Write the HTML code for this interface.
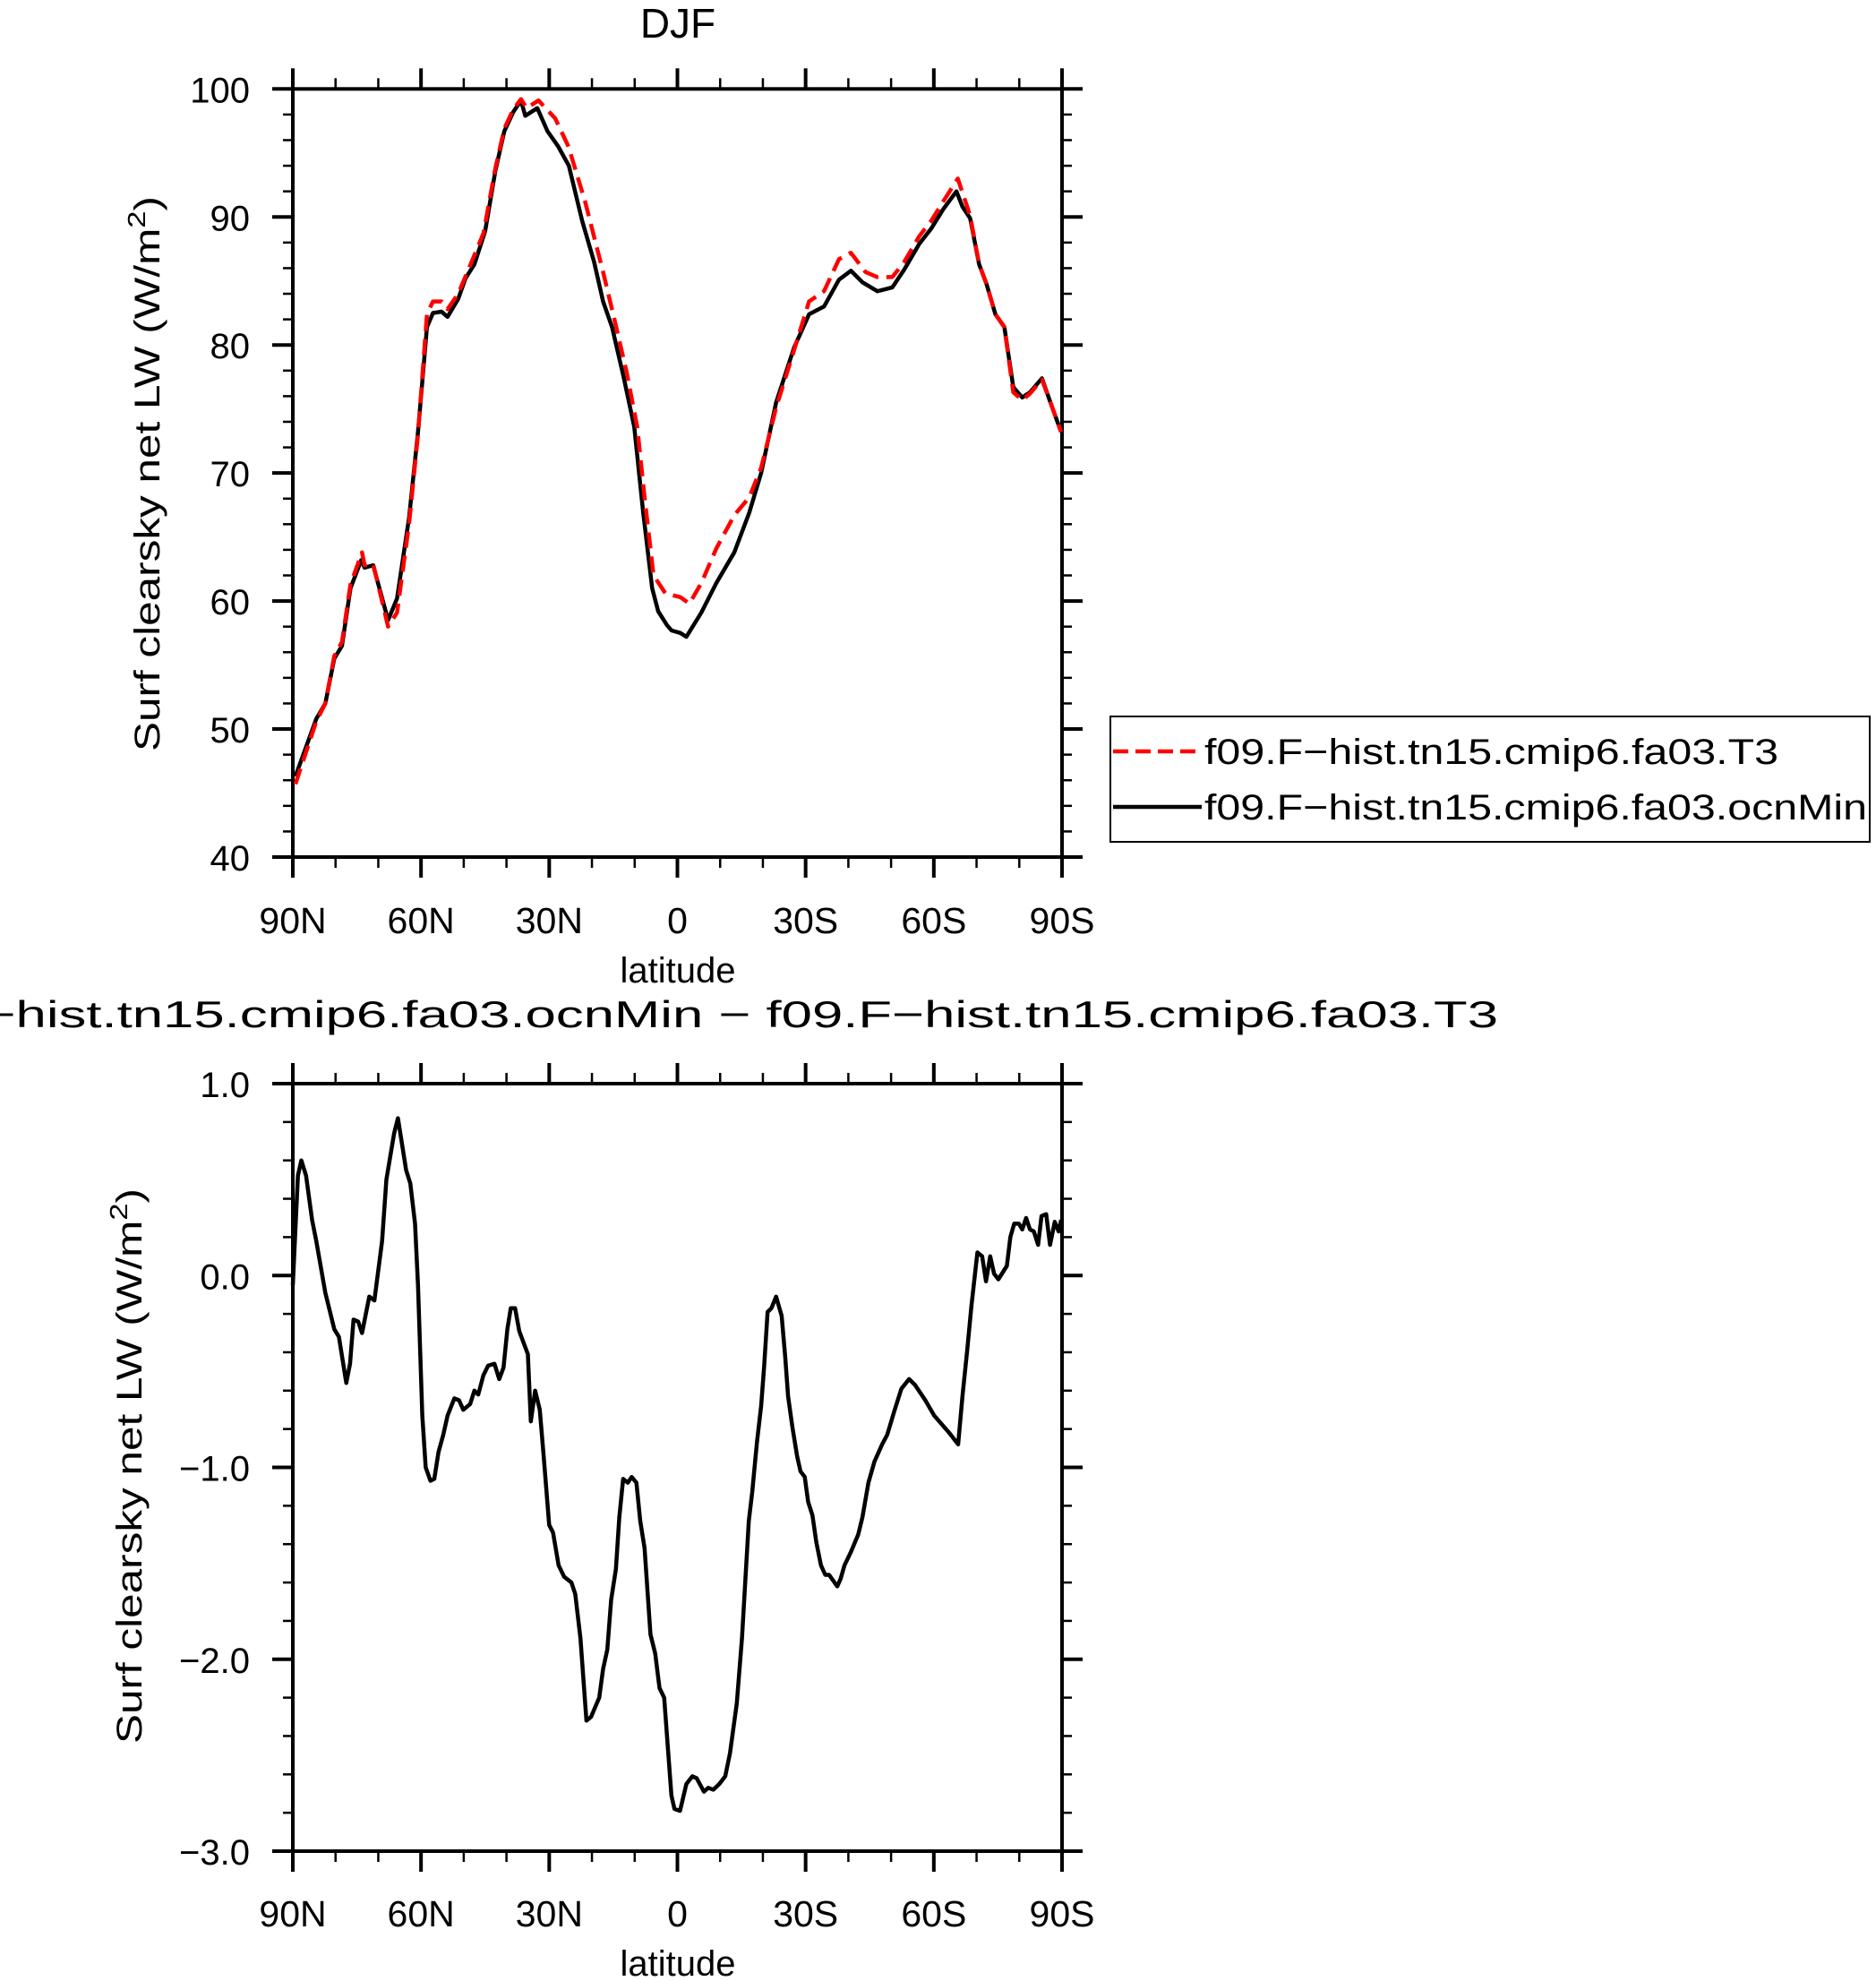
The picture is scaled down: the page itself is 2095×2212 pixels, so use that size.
<!DOCTYPE html>
<html><head><meta charset="utf-8"><style>
html,body{margin:0;padding:0;background:#fff;}
svg{display:block;font-family:"Liberation Sans",sans-serif;}
</style></head><body>
<svg id="chart" width="2095" height="2212" viewBox="0 0 2095 2212" xmlns="http://www.w3.org/2000/svg">
<rect x="0" y="0" width="2095" height="2212" fill="#fff"/>
<g id="top"></g>
<g id="bot"></g>
<text x="757" y="42" font-size="46" text-anchor="middle">DJF</text>
<text x="757" y="1147" font-size="42" text-anchor="middle" textLength="1832" lengthAdjust="spacingAndGlyphs">f09.F−hist.tn15.cmip6.fa03.ocnMin − f09.F−hist.tn15.cmip6.fa03.T3</text>
<g>
<rect x="1240" y="800" width="848" height="140" fill="#fff" stroke="#000" stroke-width="2"/>
<line x1="1243" y1="839" x2="1342" y2="839" stroke="#f00" stroke-width="4.5" stroke-dasharray="17,8"/>
<text x="1345" y="853" font-size="40" textLength="641" lengthAdjust="spacingAndGlyphs">f09.F−hist.tn15.cmip6.fa03.T3</text>
<line x1="1243" y1="901" x2="1342" y2="901" stroke="#000" stroke-width="4.5"/>
<text x="1345" y="915" font-size="40" textLength="740" lengthAdjust="spacingAndGlyphs">f09.F−hist.tn15.cmip6.fa03.ocnMin</text>
</g>
</svg>
<script>
const xTickLat = [90,60,30,0,-30,-60,-90];
const xTickLabels = ["90N","60N","30N","0","30S","60S","90S"];
const topYTicks = [40,50,60,70,80,90,100];
const topYLabels = ["40","50","60","70","80","90","100"];
const botYTicks = [-3,-2,-1,0,1];
const botYLabels = ["−3.0","−2.0","−1.0","0.0","1.0"];

const latOcn = [89.4,84.5,82.4,80.3,78.5,76.5,74.0,73.2,71.2,67.7,65.6,62.8,60.7,58.6,57.2,55.2,53.8,51.3,49.6,47.5,45.0,42.6,40.5,38.4,36.6,35.6,32.8,30.4,27.9,25.4,22.3,19.5,17.4,15.3,12.6,10.1,8.0,5.9,4.5,2.4,1.36,-0.7,-2.1,-5.6,-9.1,-13.3,-16.8,-19.6,-23.1,-27.3,-30.8,-34.3,-37.8,-40.6,-43.3,-46.8,-50.3,-53.1,-56.6,-59.4,-62.2,-65.3,-66.7,-68.5,-70.6,-72.3,-74.4,-76.5,-78.6,-80.7,-82.5,-85.3,-87.3,-89.8];
const valOcn = [46.3,50.8,52.0,55.5,56.5,61.0,63.2,62.6,62.8,58.5,60.2,66.5,73.2,81.4,82.5,82.6,82.2,83.6,85.2,86.3,88.9,93.6,96.7,98.2,99.1,97.9,98.5,96.7,95.5,94.0,89.7,86.5,83.4,81.4,77.5,73.6,66.9,61.0,59.2,58.1,57.7,57.5,57.2,59.1,61.4,63.8,66.9,70.0,75.5,79.8,82.4,83.0,85.1,85.8,84.9,84.2,84.5,85.9,87.9,89.1,90.6,92.0,90.8,89.9,86.3,84.8,82.4,81.4,76.7,75.9,76.3,77.4,75.5,73.2];

const latT3 = [89.4,84.5,82.4,80.3,78.5,76.5,73.8,73.2,71.2,67.7,65.6,62.8,60.7,58.6,57.2,55.2,53.8,51.3,48.9,45.4,42.6,40.5,38.4,36.6,35.3,32.5,28.6,25.5,21.6,17.4,14.6,11.9,9.4,7.7,5.6,2.8,-0.7,-2.8,-5.6,-9.1,-13.3,-16.8,-19.6,-23.1,-27.3,-30.8,-34.3,-37.8,-40.6,-44.0,-46.8,-50.3,-53.1,-56.6,-59.4,-62.2,-65.6,-68.5,-70.6,-72.3,-74.4,-76.5,-78.6,-80.7,-82.5,-85.3,-87.3,-89.8];
const valT3 = [45.7,50.6,52.0,55.7,56.8,61.3,63.8,62.8,62.9,58.0,59.1,66.0,73.0,82.4,83.4,83.4,82.8,84.0,85.9,88.7,93.8,96.9,98.4,99.2,98.5,99.1,97.7,95.5,91.2,85.7,81.8,77.9,73.6,68.1,62.0,60.6,60.3,59.8,61.4,64.1,66.7,68.1,70.4,75.1,79.6,83.4,84.2,86.7,87.2,85.7,85.3,85.3,86.5,88.5,89.7,91.2,93.0,90.1,86.3,84.8,82.4,81.4,76.3,75.7,76.2,77.3,75.5,73.2];

const latDiff = [90,88.8,88.0,86.9,85.5,84.5,82.4,80.3,79.2,77.5,76.6,75.8,74.7,73.8,72.1,70.9,69.1,68.1,66.3,65.4,63.5,62.5,61.4,60.7,59.7,58.9,57.8,56.9,55.9,54.8,53.8,52.2,51.1,50.1,48.5,47.5,46.6,45.4,44.3,42.8,41.7,40.7,39.8,39.0,38.0,37.0,35.0,34.3,33.3,32.2,31.3,30.0,29.1,27.8,26.5,24.8,23.9,22.7,21.3,20.2,18.3,17.4,16.4,15.5,14.4,13.6,12.7,11.6,10.7,9.6,8.7,7.7,6.3,5.2,4.2,3.1,1.4,0.7,-0.6,-2.1,-3.5,-4.5,-6.2,-7.2,-8.4,-9.8,-11.2,-12.3,-13.9,-15.1,-16.7,-17.5,-18.6,-19.6,-20.3,-21.1,-22.0,-23.1,-24.4,-25.2,-25.9,-26.9,-28.0,-28.8,-29.8,-30.6,-31.6,-32.5,-33.6,-34.6,-35.5,-37.4,-38.2,-39.1,-40.6,-42.3,-43.3,-44.7,-46.1,-47.9,-49.1,-50.7,-52.4,-54.2,-55.6,-58.0,-60.1,-63.6,-65.7,-66.7,-67.8,-68.8,-70.2,-71.3,-72.2,-73.2,-74.1,-75.1,-77.1,-77.9,-78.8,-79.9,-80.7,-81.6,-82.5,-83.4,-84.4,-85.2,-86.3,-87.2,-88.3,-89.2,-89.8];
const valDiff = [-0.05,0.52,0.60,0.52,0.29,0.18,-0.09,-0.28,-0.32,-0.56,-0.46,-0.23,-0.24,-0.30,-0.11,-0.13,0.18,0.50,0.74,0.82,0.55,0.48,0.27,-0.05,-0.73,-1.00,-1.07,-1.06,-0.92,-0.83,-0.73,-0.64,-0.65,-0.70,-0.67,-0.60,-0.62,-0.52,-0.47,-0.46,-0.54,-0.48,-0.28,-0.17,-0.17,-0.29,-0.41,-0.76,-0.60,-0.70,-0.94,-1.30,-1.34,-1.51,-1.57,-1.60,-1.66,-1.89,-2.32,-2.30,-2.20,-2.05,-1.95,-1.69,-1.53,-1.26,-1.06,-1.08,-1.05,-1.08,-1.28,-1.42,-1.87,-1.97,-2.15,-2.20,-2.71,-2.78,-2.79,-2.65,-2.61,-2.62,-2.69,-2.67,-2.68,-2.65,-2.61,-2.49,-2.23,-1.89,-1.28,-1.13,-0.87,-0.68,-0.47,-0.19,-0.17,-0.11,-0.21,-0.42,-0.63,-0.79,-0.94,-1.02,-1.05,-1.18,-1.25,-1.39,-1.51,-1.56,-1.56,-1.62,-1.58,-1.51,-1.44,-1.35,-1.26,-1.08,-0.97,-0.88,-0.83,-0.71,-0.59,-0.54,-0.57,-0.65,-0.73,-0.82,-0.88,-0.63,-0.39,-0.16,0.12,0.10,-0.03,0.10,0.01,-0.02,0.05,0.20,0.27,0.27,0.24,0.30,0.24,0.23,0.16,0.31,0.32,0.16,0.28,0.23,0.29];

const NS = "http://www.w3.org/2000/svg";
function mk(parent, tag, attrs){
  const e = document.createElementNS(NS, tag);
  for (const k in attrs) e.setAttribute(k, attrs[k]);
  parent.appendChild(e);
  return e;
}
const L = 327, R = 1186;
function xScale(lat){ return L + (90 - lat) * (R - L) / 180; }

function panel(g, top, bottom, ymin, ymax, yTicks, yLabels, minorStep, ytitleCx, ytitleCy, xlabY, latY){
  const yS = v => bottom - (v - ymin) * (bottom - top) / (ymax - ymin);
  for (let lat = 90; lat >= -90; lat -= 10){
    const x = xScale(lat);
    const major = (lat % 30 === 0);
    const len = major ? 23 : 12;
    const t1 = mk(g, "line", {x1:x, y1:top, x2:x, y2:top-len, stroke:"#000", "stroke-width": major?4:2.5});
    
    
    const t2 = mk(g, "line", {x1:x, y1:bottom, x2:x, y2:bottom+len, stroke:"#000", "stroke-width": major?4:2.5});
    
    
  }
  const nMinor = Math.round((ymax - ymin) / minorStep);
  for (let i = 0; i <= nMinor; i++){
    const v = ymin + i * minorStep;
    const y = yS(v);
    const major = yTicks.some(t => Math.abs(t - v) < 1e-6);
    const len = major ? 23 : 11;
    const a = mk(g, "line", {x1:L, y1:y, x2:L-len, y2:y, stroke:"#000", "stroke-width": major?4:2.5});
    
    
    const b = mk(g, "line", {x1:R, y1:y, x2:R+len, y2:y, stroke:"#000", "stroke-width": major?4:2.5});
    
    
  }
  yTicks.forEach((t, i) => {
    const tx = mk(g, "text", {x:279, y:yS(t)+15, "font-size":40, "text-anchor":"end"});
    tx.textContent = yLabels[i];
    
    
  });
  xTickLat.forEach((lat, i) => {
    const tx = mk(g, "text", {x:xScale(lat), y:xlabY, "font-size":41, "text-anchor":"middle"});
    tx.textContent = xTickLabels[i];
    
    
  });
  const xt = mk(g, "text", {x:757, y:latY, "font-size":40, "text-anchor":"middle"});
  xt.textContent = "latitude";
  
  
  const yt = mk(g, "text", {x:0, y:0, "font-size":40, "text-anchor":"middle", transform:"translate("+ytitleCx+","+ytitleCy+") rotate(-90)", textLength:620, lengthAdjust:"spacingAndGlyphs"});
  
  
  yt.appendChild(document.createTextNode("Surf clearsky net LW (W/m"));
  const sup = mk(yt, "tspan", {"font-size":28, dy:-16});
  sup.textContent = "2";
  const cl = mk(yt, "tspan", {dy:16});
  cl.textContent = ")";
  const frame = mk(g, "rect", {x:L, y:top, width:R-L, height:bottom-top, fill:"none", stroke:"#000", "stroke-width":4});
  
  
  return yS;
}

function drawLine(g, lats, vals, yS, color, dash, name){
  let d = "";
  lats.forEach((lat, i) => { d += (i ? "L" : "M") + xScale(lat).toFixed(1) + "," + yS(vals[i]).toFixed(1); });
  const attrs = {d:d, fill:"none", stroke:color, "stroke-width":4.5, "stroke-linejoin":"round"};
  if (dash) attrs["stroke-dasharray"] = dash;
  const p = mk(g, "path", attrs);
  
  
}

const gT = document.getElementById("top");
const ySTop = panel(gT, 99.3, 957, 40, 100, topYTicks, topYLabels, 2, 178, 529, 1042, 1097);
drawLine(gT, latOcn, valOcn, ySTop, "#000", null, "series-ocnmin");
drawLine(gT, latT3, valT3, ySTop, "#f00", "18,9", "series-t3");

const gB = document.getElementById("bot");
const ySBot = panel(gB, 1210, 2067, -3, 1, botYTicks, botYLabels, 0.2, 158, 1637, 2151, 2206);
drawLine(gB, latDiff, valDiff, ySBot, "#000", null, "series-difference");
</script>
</body></html>
